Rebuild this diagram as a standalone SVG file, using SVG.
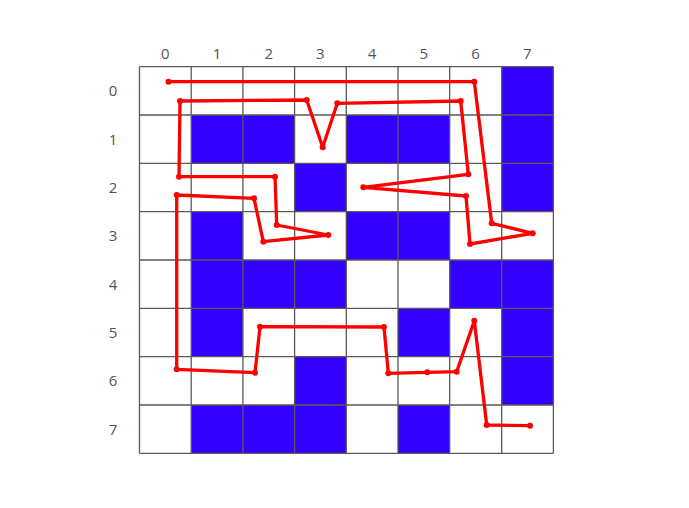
<svg xmlns="http://www.w3.org/2000/svg" width="689" height="508" viewBox="0 0 689 508">
<style>
.lbl{font-family:"Open Sans","DejaVu Sans",sans-serif;font-size:15px;fill:#555;text-anchor:middle}
.cell{fill:#3300ff}
.grid{stroke:#5a5a5a;stroke-width:1.3;fill:none}
.path{stroke:#ff0000;stroke-width:3.3;fill:none;stroke-linejoin:round;stroke-linecap:round}
.dot{fill:#ff0000}
</style>
<rect width="689" height="508" fill="#fff"/>
<g id="labels">
<text class="lbl" x="165.3" y="59">0</text>
<text class="lbl" x="217" y="59">1</text>
<text class="lbl" x="268.7" y="59">2</text>
<text class="lbl" x="320.4" y="59">3</text>
<text class="lbl" x="372.1" y="59">4</text>
<text class="lbl" x="423.8" y="59">5</text>
<text class="lbl" x="475.5" y="59">6</text>
<text class="lbl" x="527.2" y="59">7</text>
<text class="lbl" x="113" y="96">0</text>
<text class="lbl" x="113" y="144.5">1</text>
<text class="lbl" x="113" y="193">2</text>
<text class="lbl" x="113" y="241">3</text>
<text class="lbl" x="113" y="289.5">4</text>
<text class="lbl" x="113" y="338">5</text>
<text class="lbl" x="113" y="386">6</text>
<text class="lbl" x="113" y="434.5">7</text>
</g>
<g id="cells">
<rect class="cell" x="501.7" y="66.7" width="51.7" height="48.3"/>
<rect class="cell" x="191.2" y="115" width="103.4" height="48.3"/>
<rect class="cell" x="346.3" y="115" width="103.4" height="48.3"/>
<rect class="cell" x="501.7" y="115" width="51.7" height="48.3"/>
<rect class="cell" x="294.6" y="163.3" width="51.7" height="48.3"/>
<rect class="cell" x="501.7" y="163.3" width="51.7" height="48.3"/>
<rect class="cell" x="191.2" y="211.7" width="51.7" height="48.3"/>
<rect class="cell" x="346.3" y="211.7" width="103.4" height="48.3"/>
<rect class="cell" x="191.2" y="260" width="155.1" height="48.3"/>
<rect class="cell" x="449.7" y="260" width="103.7" height="48.3"/>
<rect class="cell" x="191.2" y="308.3" width="51.7" height="48.3"/>
<rect class="cell" x="398" y="308.3" width="51.7" height="48.3"/>
<rect class="cell" x="501.7" y="308.3" width="51.7" height="48.3"/>
<rect class="cell" x="294.6" y="356.7" width="51.7" height="48.3"/>
<rect class="cell" x="501.7" y="356.7" width="51.7" height="48.3"/>
<rect class="cell" x="191.2" y="405" width="155.1" height="48.3"/>
<rect class="cell" x="398" y="405" width="51.7" height="48.3"/>
</g>
<g id="grid" class="grid">
<path d="M139.5 66.7V453.3M191.2 66.7V453.3M242.9 66.7V453.3M294.6 66.7V453.3M346.3 66.7V453.3M398 66.7V453.3M449.7 66.7V453.3M501.7 66.7V453.3M553.4 66.7V453.3"/>
<path d="M139.5 66.7H553.4M139.5 115H553.4M139.5 163.3H553.4M139.5 211.7H553.4M139.5 260H553.4M139.5 308.3H553.4M139.5 356.7H553.4M139.5 405H553.4M139.5 453.3H553.4"/>
</g>
<g id="connectors">
<polyline class="path" points="168.5,81.7 474.3,81.7 491.7,223.3 532.7,233.3 470,244 466,196 363.3,187.3 468.3,174.3 460.7,101 337.3,103.3 322.7,147.3 306.7,100 180,101 179,176.7 275,176.7 276.7,225 328.3,235 263.3,241.7 254,198.3 176.7,195 176.7,369.3 255,372.7 260,326.7 384,327 388.3,373.3 427.3,372.3 456.7,371.7 474.3,320.7 486.7,425 530,425.7"/>
<g class="dot">
<circle cx="168.5" cy="81.7" r="3"/><circle cx="474.3" cy="81.7" r="3"/><circle cx="491.7" cy="223.3" r="3"/><circle cx="532.7" cy="233.3" r="3"/><circle cx="470" cy="244" r="3"/><circle cx="466" cy="196" r="3"/><circle cx="363.3" cy="187.3" r="3"/><circle cx="468.3" cy="174.3" r="3"/><circle cx="460.7" cy="101" r="3"/><circle cx="337.3" cy="103.3" r="3"/><circle cx="322.7" cy="147.3" r="3"/><circle cx="306.7" cy="100" r="3"/><circle cx="180" cy="101" r="3"/><circle cx="179" cy="176.7" r="3"/><circle cx="275" cy="176.7" r="3"/><circle cx="276.7" cy="225" r="3"/><circle cx="328.3" cy="235" r="3"/><circle cx="263.3" cy="241.7" r="3"/><circle cx="254" cy="198.3" r="3"/><circle cx="176.7" cy="195" r="3"/><circle cx="176.7" cy="369.3" r="3"/><circle cx="255" cy="372.7" r="3"/><circle cx="260" cy="326.7" r="3"/><circle cx="384" cy="327" r="3"/><circle cx="388.3" cy="373.3" r="3"/><circle cx="427.3" cy="372.3" r="3"/><circle cx="456.7" cy="371.7" r="3"/><circle cx="474.3" cy="320.7" r="3"/><circle cx="486.7" cy="425" r="3"/><circle cx="530" cy="425.7" r="3"/>
</g>
</g>
</svg>
